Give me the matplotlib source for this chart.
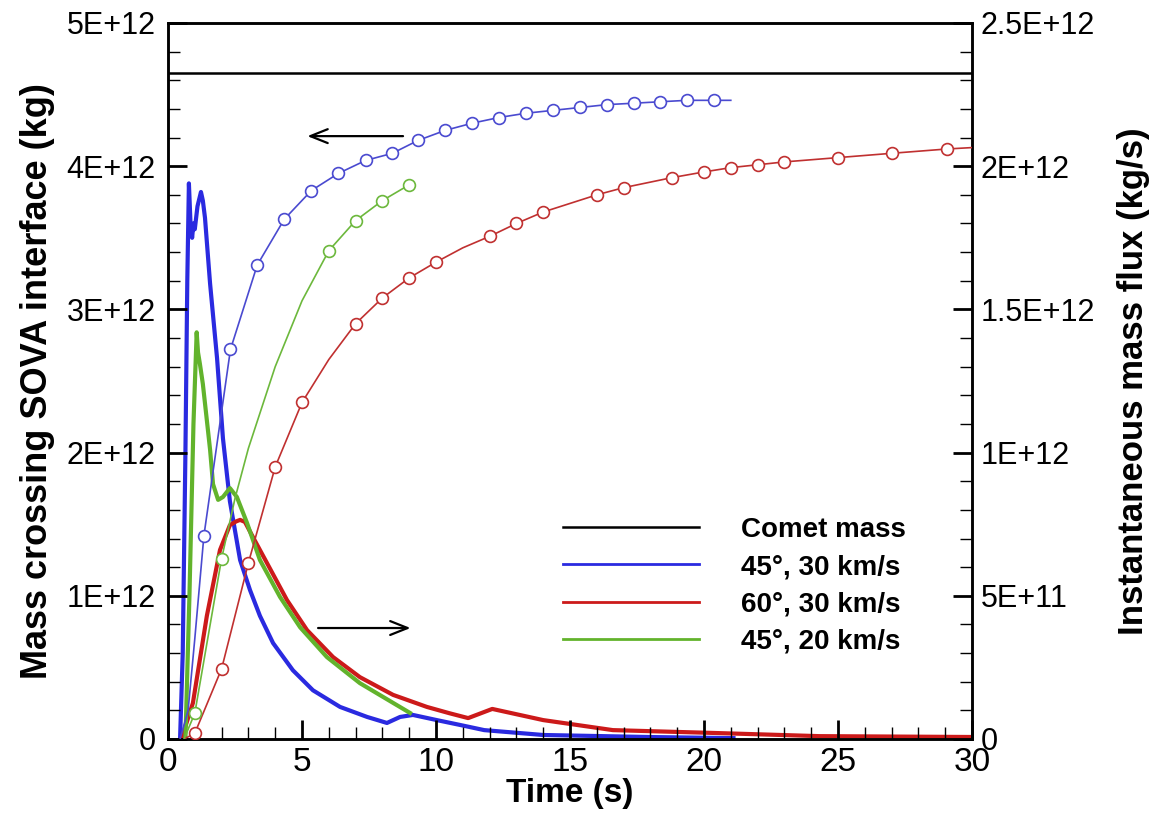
import matplotlib
matplotlib.use("Agg")
import matplotlib.pyplot as plt
from matplotlib import font_manager
from matplotlib.ticker import MultipleLocator, FuncFormatter
from matplotlib.lines import Line2D
import math

# ---------------- data (values in units of 1E+12) ----------------
comet_mass = 4.65

# instantaneous mass flux (right axis, kg/s /1e12)
flux_45_30_t = [0.45, 0.55, 0.65, 0.72, 0.78, 0.84, 0.9, 0.95, 1.0, 1.1, 1.23, 1.3, 1.38, 1.57, 1.83,
                2.05, 2.31, 2.69, 3.06, 3.43, 3.92, 4.66, 5.41, 6.42, 7.43, 8.17, 8.66, 9.14, 10.03,
                10.9, 11.8, 14.0, 17.9, 21.1]
flux_45_30_v = [0.0, 0.3, 1.0, 1.6, 1.94, 1.80, 1.75, 1.80, 1.78, 1.86, 1.91, 1.88, 1.82, 1.59, 1.33,
                1.05, 0.83, 0.625, 0.52, 0.43, 0.335, 0.24, 0.17, 0.112, 0.077, 0.056, 0.077, 0.084, 0.066,
                0.049, 0.031, 0.014, 0.007, 0.003]

flux_60_30_t = [0.5, 0.93, 1.45, 1.94, 2.31, 2.55, 2.69, 2.87, 3.17, 3.69, 4.44, 5.19, 6.16, 7.16, 8.4,
                9.66, 10.5, 11.2, 12.1, 14.0, 16.6, 20.4, 24.3, 30.0]
flux_60_30_v = [0.0, 0.126, 0.43, 0.66, 0.747, 0.76, 0.765, 0.758, 0.705, 0.615, 0.485, 0.38, 0.286, 0.216, 0.154,
                0.112, 0.09, 0.073, 0.105, 0.066, 0.031, 0.021, 0.010, 0.007]

flux_45_20_t = [0.65, 0.8, 0.95, 1.07, 1.12, 1.19, 1.3, 1.5, 1.57, 1.68, 1.87, 2.05, 2.31, 2.57, 2.95,
                3.43, 4.18, 4.93, 5.93, 7.16, 8.4, 9.03]
flux_45_20_v = [0.0, 0.5, 1.1, 1.42, 1.35, 1.31, 1.24, 1.07, 1.01, 0.89, 0.835, 0.845, 0.876, 0.845, 0.754,
                0.625, 0.496, 0.39, 0.286, 0.195, 0.126, 0.091]

# cumulative mass crossing the interface (left axis, kg /1e12)
mass_45_30_t = [0.45, 0.75, 1.0, 1.34, 2.33, 3.33, 4.34, 5.35, 6.36, 7.37, 8.37, 9.33, 10.34, 11.34, 12.35,
                13.36, 14.37, 15.37, 16.38, 17.39, 18.36, 19.37, 20.37, 21.0]
mass_45_30_v = [0.0, 0.2, 0.7, 1.42, 2.72, 3.31, 3.63, 3.83, 3.95, 4.04, 4.09, 4.18, 4.25, 4.30, 4.34,
                4.37, 4.39, 4.41, 4.43, 4.44, 4.45, 4.46, 4.46, 4.46]
mark_45_30_t = [1.34, 2.33, 3.33, 4.34, 5.35, 6.36, 7.37, 8.37, 9.33, 10.34, 11.34, 12.35, 13.36, 14.37,
                15.37, 16.38, 17.39, 18.36, 19.37, 20.37]
mark_45_30_v = [1.42, 2.72, 3.31, 3.63, 3.83, 3.95, 4.04, 4.09, 4.18, 4.25, 4.30, 4.34, 4.37, 4.39,
                4.41, 4.43, 4.44, 4.45, 4.46, 4.46]

mass_60_30_t = [0.6, 1, 2, 3, 4, 5, 6, 7, 8, 9, 10, 11, 12, 13, 14, 16, 17, 18.8, 20, 21, 22, 23, 25, 27, 29.05, 30]
mass_60_30_v = [0.0, 0.04, 0.49, 1.23, 1.90, 2.35, 2.65, 2.90, 3.08, 3.22, 3.33, 3.43, 3.51, 3.60, 3.68,
                3.80, 3.85, 3.92, 3.96, 3.99, 4.01, 4.03, 4.06, 4.09, 4.12, 4.13]
mark_60_30_t = [1, 2, 3, 4, 5, 7, 8, 9, 10, 12, 13, 14, 16, 17, 18.8, 20, 21, 22, 23, 25, 27, 29.05]
mark_60_30_v = [0.04, 0.49, 1.23, 1.90, 2.35, 2.90, 3.08, 3.22, 3.33, 3.51, 3.60, 3.68, 3.80, 3.85,
                3.92, 3.96, 3.99, 4.01, 4.03, 4.06, 4.09, 4.12]

mass_45_20_t = [0.6, 1, 2, 2.5, 3, 4, 5, 6, 7, 8, 9]
mass_45_20_v = [0.0, 0.18, 1.26, 1.68, 2.03, 2.60, 3.06, 3.41, 3.62, 3.76, 3.87]
mark_45_20_t = [1, 2, 6, 7, 8, 9]
mark_45_20_v = [0.18, 1.26, 3.41, 3.62, 3.76, 3.87]

legend_labels = ["Comet mass", "45°, 30 km/s", "60°, 30 km/s", "45°, 20 km/s"]

# ---------------- fonts ----------------
def has_font(name):
    try:
        font_manager.findfont(font_manager.FontProperties(family=name), fallback_to_default=False)
        return True
    except Exception:
        return False

narrow = "Liberation Sans Narrow" if has_font("Liberation Sans Narrow") else "Liberation Sans"
plt.rcParams["font.family"] = ["Liberation Sans", "DejaVu Sans"]

# ---------------- colours ----------------
c_blue, c_blue_thin = "#2a2ae0", "#4a4ad0"
c_red, c_red_thin = "#cc1a1a", "#c03030"
c_green, c_green_thin = "#62b32c", "#6cb83c"

fig = plt.figure(figsize=(11.49, 8.14), dpi=100)
ax = fig.add_axes([168 / 1149, 1 - 739 / 814, (972 - 168) / 1149, (739 - 23) / 814])
ax2 = ax.twinx()

# flux (thick) on right axis
ax2.plot(flux_45_30_t, flux_45_30_v, color=c_blue, lw=3.0, zorder=2)
ax2.plot(flux_60_30_t, flux_60_30_v, color=c_red, lw=3.0, zorder=2)
ax2.plot(flux_45_20_t, flux_45_20_v, color=c_green, lw=3.0, zorder=2)
ax2.set_ylim(0, 2.5)

# cumulative (thin + open circles) on left axis
mk = dict(marker="o", ms=8.5, mfc="white", mew=1.2, ls="none", zorder=4)
ax.plot(mass_45_30_t, mass_45_30_v, color=c_blue_thin, lw=1.2, zorder=3)
ax.plot(mark_45_30_t, mark_45_30_v, mec=c_blue_thin, **mk)
ax.plot(mass_60_30_t, mass_60_30_v, color=c_red_thin, lw=1.2, zorder=3)
ax.plot(mark_60_30_t, mark_60_30_v, mec=c_red_thin, **mk)
ax.plot(mass_45_20_t, mass_45_20_v, color=c_green_thin, lw=1.2, zorder=3)
ax.plot(mark_45_20_t, mark_45_20_v, mec=c_green_thin, **mk)
ax.axhline(comet_mass, color="black", lw=1.8, zorder=3)

ax.set_zorder(ax2.get_zorder() + 1)
ax.patch.set_visible(False)

ax.set_xlim(0, 30)
ax.set_ylim(0, 5)

# arrows
astyle = "->,head_length=1.25,head_width=0.5"
ax.annotate("", xy=(5.2, 4.21), xytext=(8.77, 4.21),
            arrowprops=dict(arrowstyle=astyle, color="black", lw=1.6, shrinkA=0, shrinkB=0))
ax.annotate("", xy=(9.05, 0.775), xytext=(5.6, 0.775),
            arrowprops=dict(arrowstyle=astyle, color="black", lw=1.6, shrinkA=0, shrinkB=0))

# ticks
def fmt_sci(scale):
    def f(v, pos):
        val = v * scale
        if abs(val) < 1e-9:
            return "0"
        e = int(math.floor(math.log10(abs(val)) + 1e-9))
        m = val / 10 ** e
        return f"{m:g}E+{e:02d}"
    return f

ax.xaxis.set_major_locator(MultipleLocator(5))
ax.xaxis.set_minor_locator(MultipleLocator(1))
ax.yaxis.set_major_locator(MultipleLocator(1))
ax.yaxis.set_minor_locator(MultipleLocator(0.2))
ax.yaxis.set_major_formatter(FuncFormatter(fmt_sci(1e12)))
ax2.yaxis.set_major_locator(MultipleLocator(0.5))
ax2.yaxis.set_minor_locator(MultipleLocator(0.1))
ax2.yaxis.set_major_formatter(FuncFormatter(fmt_sci(1e12)))

for a in (ax, ax2):
    a.tick_params(which="major", direction="in", length=14, width=2.0, labelsize=22)
    a.tick_params(which="minor", direction="in", length=8.5, width=1.0)
    for s in a.spines.values():
        s.set_linewidth(1.8)
ax.tick_params(axis="y", which="both", right=False, pad=9)
ax.tick_params(axis="x", which="both", top=False, pad=6)
ax2.tick_params(axis="y", which="both", left=False, pad=6)
for lab in ax.get_xticklabels():
    lab.set_fontfamily(narrow)
    lab.set_fontsize(24)

ax.set_xlabel("Time (s)", fontsize=24, fontweight="bold", family=narrow, labelpad=0)
ax.set_ylabel("Mass crossing SOVA interface (kg)", fontsize=26, fontweight="bold", family=narrow, labelpad=8)
ax2.set_ylabel("Instantaneous mass flux (kg/s)", fontsize=25, fontweight="bold", family=narrow, labelpad=16)

handles = [Line2D([], [], color="black", lw=1.8),
           Line2D([], [], color=c_blue, lw=2.0),
           Line2D([], [], color=c_red, lw=2.0),
           Line2D([], [], color=c_green, lw=2.0)]
leg = ax.legend(handles, legend_labels, loc="upper left", bbox_to_anchor=(563 / 1149, 1 - 517 / 814),
                bbox_transform=fig.transFigure, frameon=False, borderpad=0, borderaxespad=0,
                handlelength=4.9, handletextpad=1.5, labelspacing=0.40,
                prop=dict(family="Liberation Sans", weight="bold", size=20))

fig.savefig("out.png", dpi=100)
